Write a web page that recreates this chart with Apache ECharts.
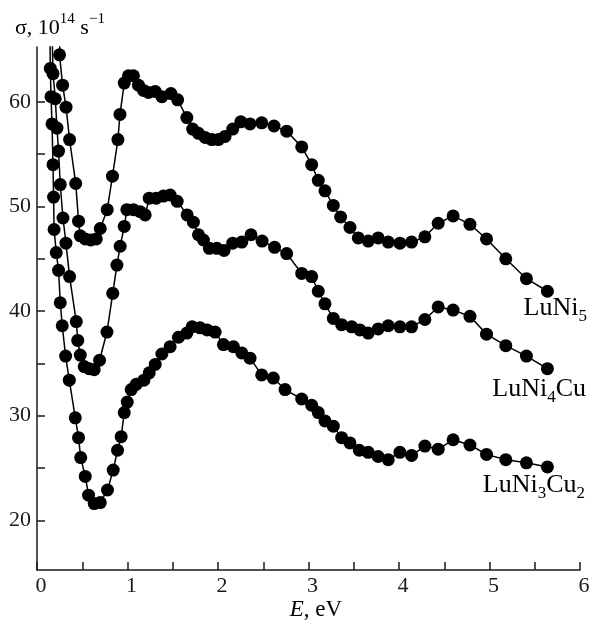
<!DOCTYPE html>
<html>
<head>
<meta charset="utf-8">
<script src="https://cdn.jsdelivr.net/npm/echarts@6.0.0/dist/echarts.min.js"></script>
<style>
  html, body { margin: 0; padding: 0; background: #fff; }
  #chart { width: 596px; height: 630px; }
</style>
</head>
<body>
<div id="chart"></div>
<script>
// E, eV and sigma (10^14 s^-1)
// first point of each curve lies just above the frame (the line leaves the top)
var eLuNi5 = [0.26, 0.249, 0.283, 0.321, 0.36, 0.428, 0.459, 0.478, 0.533, 0.594, 0.655, 0.699, 0.776, 0.834, 0.894, 0.917, 0.964, 1.011, 1.066, 1.121, 1.177, 1.232, 1.306, 1.38, 1.48, 1.554, 1.656, 1.72, 1.784, 1.858, 1.932, 2.004, 2.078, 2.163, 2.252, 2.354, 2.483, 2.619, 2.759, 2.925, 3.035, 3.108, 3.182, 3.274, 3.355, 3.458, 3.55, 3.66, 3.77, 3.881, 4.01, 4.139, 4.286, 4.433, 4.598, 4.784, 4.967, 5.18, 5.408, 5.64]
var sLuNi5 = [68, 64.5, 61.6, 59.5, 56.4, 52.2, 48.6, 47.2, 46.9, 46.8, 46.9, 47.9, 49.7, 52.9, 56.4, 58.8, 61.8, 62.5, 62.5, 61.6, 61.1, 60.9, 61.0, 60.5, 60.8, 60.2, 58.5, 57.4, 57.0, 56.6, 56.4, 56.4, 56.7, 57.4, 58.1, 57.9, 58.0, 57.7, 57.2, 55.7, 54.0, 52.5, 51.5, 50.1, 49.0, 48.0, 47.0, 46.7, 47.0, 46.6, 46.5, 46.6, 47.1, 48.4, 49.1, 48.3, 46.9, 45.0, 43.1, 41.9]

var eLuNi4Cu = [0.163, 0.177, 0.202, 0.221, 0.238, 0.257, 0.287, 0.32, 0.36, 0.434, 0.45, 0.478, 0.522, 0.577, 0.632, 0.691, 0.773, 0.837, 0.883, 0.919, 0.964, 0.993, 1.066, 1.14, 1.195, 1.24, 1.317, 1.397, 1.471, 1.549, 1.659, 1.728, 1.784, 1.839, 1.905, 1.987, 2.067, 2.163, 2.263, 2.365, 2.487, 2.625, 2.759, 2.925, 3.035, 3.108, 3.182, 3.274, 3.366, 3.477, 3.568, 3.66, 3.77, 3.881, 4.01, 4.139, 4.286, 4.433, 4.598, 4.784, 4.967, 5.18, 5.408, 5.64]
var sLuNi4Cu = [68, 62.7, 60.3, 57.5, 55.3, 52.1, 48.9, 46.5, 43.3, 39.0, 37.2, 35.8, 34.7, 34.5, 34.4, 35.3, 38.0, 41.7, 44.4, 46.2, 48.1, 49.7, 49.7, 49.5, 49.2, 50.8, 50.8, 51.0, 51.1, 50.5, 49.2, 48.5, 47.3, 46.8, 46.0, 46.0, 45.8, 46.5, 46.6, 47.3, 46.7, 46.1, 45.5, 43.6, 43.3, 41.9, 40.7, 39.3, 38.7, 38.5, 38.2, 37.9, 38.3, 38.6, 38.5, 38.5, 39.2, 40.4, 40.1, 39.5, 37.8, 36.7, 35.7, 34.5]

var eLuNi3Cu2 = [0.141, 0.147, 0.155, 0.166, 0.177, 0.183, 0.189, 0.213, 0.238, 0.257, 0.279, 0.316, 0.357, 0.423, 0.459, 0.483, 0.533, 0.57, 0.632, 0.699, 0.779, 0.842, 0.89, 0.93, 0.964, 0.997, 1.041, 1.096, 1.181, 1.24, 1.306, 1.38, 1.471, 1.563, 1.656, 1.714, 1.802, 1.88, 1.968, 2.06, 2.17, 2.263, 2.354, 2.483, 2.611, 2.741, 2.925, 3.035, 3.108, 3.182, 3.274, 3.366, 3.458, 3.561, 3.66, 3.77, 3.881, 4.01, 4.139, 4.286, 4.433, 4.598, 4.784, 4.967, 5.18, 5.408, 5.64]
var sLuNi3Cu2 = [68, 63.2, 60.5, 57.9, 54.0, 50.9, 47.8, 45.6, 43.9, 40.8, 38.6, 35.7, 33.4, 29.8, 27.9, 26.0, 24.2, 22.4, 21.6, 21.7, 22.9, 24.8, 26.7, 28.0, 30.3, 31.3, 32.5, 33.0, 33.4, 34.1, 34.9, 35.9, 36.6, 37.5, 37.9, 38.5, 38.4, 38.2, 38.0, 36.8, 36.6, 36.0, 35.5, 33.9, 33.6, 32.5, 31.6, 31.0, 30.3, 29.5, 29.0, 27.9, 27.4, 26.7, 26.5, 26.1, 25.8, 26.5, 26.2, 27.1, 26.8, 27.7, 27.2, 26.3, 25.8, 25.5, 25.1]

var xLabels = [0, 1, 2, 3, 4, 5, 6]
var yLabels = [20, 30, 40, 50, 60]
var yTicks = [20, 25, 30, 35, 40, 45, 50, 55, 60]

var serif = 'Liberation Serif'
var ink = '#1a1a1a'

function pairs(xs, ys) {
  var out = []
  for (var i = 0; i < Math.min(xs.length, ys.length); i++) {
    out.push([xs[i], ys[i]])
  }
  return out
}

function curve(data) {
  return {
    type: 'line',
    data: data,
    clip: true,
    symbol: 'circle',
    symbolSize: 13,
    showAllSymbol: true,
    itemStyle: { color: '#000' },
    lineStyle: { color: '#000', width: 1.5 }
  }
}

// main text + sub/superscript pieces
var supRich = {
  a: { fontFamily: serif, fontSize: 22, lineHeight: 27, verticalAlign: 'bottom', color: ink },
  sup: { fontFamily: serif, fontSize: 15, lineHeight: 15, verticalAlign: 'top', color: ink }
}
var subRich = {
  a: { fontFamily: serif, fontSize: 26, lineHeight: 30, verticalAlign: 'top', color: ink },
  sub: { fontFamily: serif, fontSize: 17, lineHeight: 18, verticalAlign: 'bottom', color: ink }
}

var myChart = echarts.init(document.getElementById('chart'))
var option = {
  animation: false,
  backgroundColor: '#fff',
  grid: {
    left: 37,
    right: 16,
    top: 47,
    bottom: 60
  },
  xAxis: {
    type: 'value',
    min: 0,
    max: 6,
    interval: 0.5,
    splitLine: { show: false },
    axisLine: { lineStyle: { color: ink, width: 1.5 } },
    axisTick: { inside: true, length: 8, lineStyle: { color: ink, width: 1.5 } },
    axisLabel: {
      customValues: xLabels,
      margin: 5,
      fontFamily: serif,
      fontSize: 22,
      lineHeight: 22,
      color: ink,
      padding: [0, 0, 0, 8]
    }
  },
  yAxis: {
    type: 'value',
    min: 15.25,
    max: 65.25,
    splitLine: { show: false },
    axisLine: { lineStyle: { color: ink, width: 1.5 } },
    axisTick: { inside: true, length: 8, customValues: yTicks, lineStyle: { color: ink, width: 1.5 } },
    axisLabel: {
      customValues: yLabels,
      margin: 6,
      fontFamily: serif,
      fontSize: 22,
      color: ink
    }
  },
  graphic: [
    {
      type: 'text',
      left: 15,
      top: 12,
      style: {
        text: '{a|σ, 10}{sup|14}{a| s}{sup|−1}',
        rich: supRich
      }
    },
    {
      type: 'text',
      x: 316,
      y: 610,
      style: {
        text: '{i|E}{a|, eV}',
        align: 'center',
        verticalAlign: 'middle',
        rich: {
          i: { fontFamily: serif, fontSize: 23, fontStyle: 'italic', color: ink },
          a: { fontFamily: serif, fontSize: 23, color: ink }
        }
      }
    },
    {
      type: 'text',
      right: 9,
      top: 295,
      style: { text: '{a|LuNi}{sub|5}', rich: subRich }
    },
    {
      type: 'text',
      right: 10,
      top: 376,
      style: { text: '{a|LuNi}{sub|4}{a|Cu}', rich: subRich }
    },
    {
      type: 'text',
      right: 11,
      top: 472,
      style: { text: '{a|LuNi}{sub|3}{a|Cu}{sub|2}', rich: subRich }
    }
  ],
  series: [
    curve(pairs(eLuNi5, sLuNi5)),
    curve(pairs(eLuNi4Cu, sLuNi4Cu)),
    curve(pairs(eLuNi3Cu2, sLuNi3Cu2))
  ]
}

option && myChart.setOption(option)
</script>
</body>
</html>
